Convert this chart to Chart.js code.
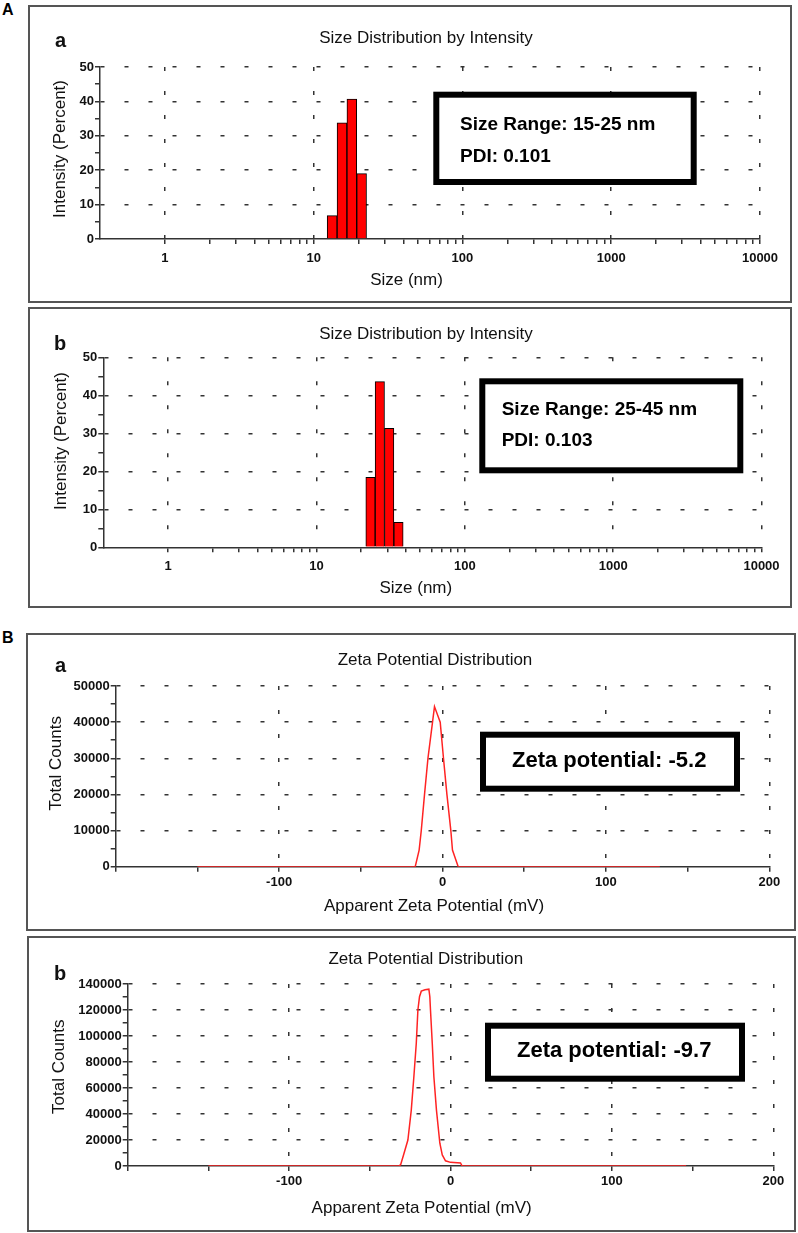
<!DOCTYPE html>
<html>
<head>
<meta charset="utf-8">
<script src="https://cdn.jsdelivr.net/npm/chart.js@4.4.0/dist/chart.umd.min.js"></script>
<style>
  body { margin: 0; background: #fff; width: 798px; height: 1233px; position: relative; overflow: hidden; }
  .panel { position: absolute; border: 2px solid #555; background: #fff; }
  .panel canvas { display: block; }
  .part { position: absolute; left: 2px; font: bold 16px Arial, "Liberation Sans", sans-serif; line-height: 16px; color: #000; }
</style>
</head>
<body>
<div class="part" style="top:2px">A</div>
<div class="panel" style="left:28px;top:5px;width:760px;height:294px"><canvas id="sizeA" width="760" height="294"></canvas></div>
<div class="panel" style="left:28px;top:307px;width:760px;height:297px"><canvas id="sizeB" width="760" height="297"></canvas></div>
<div class="part" style="top:630px">B</div>
<div class="panel" style="left:26px;top:633px;width:766px;height:294px"><canvas id="zetaA" width="766" height="294"></canvas></div>
<div class="panel" style="left:27px;top:936px;width:765px;height:292px"><canvas id="zetaB" width="765" height="292"></canvas></div>

<script>
const FONT = 'Arial, "Liberation Sans", sans-serif';
const AXIS = '#333';
const CLEAR = 'rgba(0,0,0,0)';

// size distribution by intensity (panel A)
const sizeTicks = [1, 2, 3, 4, 5, 6, 7, 8, 9, 10, 20, 30, 40, 50, 60, 70, 80, 90,
  100, 200, 300, 400, 500, 600, 700, 800, 900, 1000, 2000, 3000, 4000, 5000,
  6000, 7000, 8000, 9000, 10000];
const sizeLabels = [1, 10, 100, 1000, 10000];
const sizeBinsA = [13.3, 15.5, 18.05, 21.0];
const intensityA = [6.8, 33.8, 40.7, 19.0];
const sizeBinsB = [23.1, 26.7, 30.9, 35.7];
const intensityB = [18.4, 43.6, 31.3, 6.6];

// zeta potential distribution (panel B)
const zetaLabels = [-100, 0, 100, 200];
const mvA = [-150, -16.7, -14.3, -13, -11, -8.9, -6.1, -4.9, -1.4, 0.6, 2.7, 5.1, 6.1, 9.6, 133];
const countsA = [0, 0, 4600, 10000, 20000, 30000, 40000, 44300, 40000, 30000, 20000, 10000, 4600, 0, 0];
const mvB = [-150, -32, -30.9, -29.1, -26.4, -24.3, -22.7, -21.2, -20.2, -19.2, -18.1, -15.8, -13.4,
  -12.8, -12.4, -11.3, -10.3, -8.7, -6.6, -5.1, -3.1, 0, 6.2, 7.2, 146];
const countsB = [0, 0, 1000, 8500, 20000, 43000, 68700, 94400, 120000, 130200, 134500, 135500, 136000,
  130200, 120000, 94400, 68700, 43000, 17500, 8500, 4000, 2800, 2300, 0, 0];

const panelText = {
  id: 'panelText',
  afterDraw(chart, args, o) {
    const ctx = chart.ctx;
    ctx.save();
    ctx.textBaseline = 'alphabetic';
    ctx.fillStyle = '#111';
    ctx.textAlign = 'left';
    ctx.font = 'bold 20px ' + FONT;
    ctx.fillText(o.letter, o.letterAt[0], o.letterAt[1]);

    ctx.font = '17px ' + FONT;
    ctx.textAlign = 'center';
    ctx.fillText(o.title, o.titleAt[0], o.titleAt[1]);
    ctx.fillText(o.xTitle, o.xTitleAt[0], o.xTitleAt[1]);
    ctx.save();
    ctx.translate(o.yTitleAt[0], o.yTitleAt[1]);
    ctx.rotate(-Math.PI / 2);
    ctx.fillText(o.yTitle, 0, 0);
    ctx.restore();

    // result box
    const [bx, by, bw, bh] = o.box;
    ctx.fillStyle = '#fff';
    ctx.fillRect(bx, by, bw, bh);
    ctx.lineWidth = 6;
    ctx.strokeStyle = '#000';
    ctx.strokeRect(bx, by, bw, bh);
    ctx.fillStyle = '#000';
    ctx.font = o.noteFont;
    ctx.textAlign = o.noteAlign;
    o.notes.forEach(n => ctx.fillText(n[0], n[1], n[2]));
    ctx.restore();
  }
};

function grid(isMajor) {
  return {
    color: c => (c.tick && isMajor(c.tick.value)) ? AXIS : CLEAR,
    lineWidth: 1.5,
    tickColor: AXIS,
    tickWidth: 1.5,
    tickLength: 5,
    offset: false
  };
}

const border = { display: true, color: AXIS, width: 1.5, dash: [4, 20] };
const tickFont = { family: FONT, size: 13, weight: 'bold' };

function sizeChart(id, bins, values, lay, text) {
  new Chart(document.getElementById(id), {
    type: 'bar',
    data: {
      datasets: [{
        data: bins.map((x, i) => ({ x: x, y: values[i] })),
        backgroundColor: '#ff0000',
        borderColor: '#000',
        borderWidth: 1,
        barThickness: 'flex',
        categoryPercentage: 1,
        barPercentage: 1
      }]
    },
    options: {
      responsive: false,
      animation: false,
      layout: { padding: { left: 0, top: lay.top, right: lay.right, bottom: 0 } },
      plugins: { legend: { display: false }, tooltip: { enabled: false }, panelText: text },
      scales: {
        x: {
          type: 'logarithmic',
          min: lay.min,
          max: 10000,
          offset: false,
          grid: grid(v => sizeLabels.includes(v)),
          border: border,
          ticks: {
            autoSkip: false, maxRotation: 0, minRotation: 0, padding: 6.5,
            font: tickFont, color: '#111',
            callback: v => sizeLabels.includes(v) ? String(v) : ''
          },
          afterBuildTicks: s => { s.ticks = sizeTicks.map(v => ({ value: v })); },
          afterFit: s => { s.height = lay.xh; }
        },
        y: {
          type: 'linear',
          min: 0,
          max: 50,
          grid: grid(v => v % 10 === 0 && v !== 0),
          border: border,
          ticks: {
            stepSize: 5, autoSkip: false, padding: 1,
            font: tickFont, color: '#111',
            callback: v => v % 10 === 0 ? String(v) : ''
          },
          afterFit: s => { s.width = lay.yw; }
        }
      }
    },
    plugins: [panelText]
  });
}

function zetaChart(id, mv, counts, yMax, yStep, yLabelStep, lay, text) {
  new Chart(document.getElementById(id), {
    type: 'line',
    data: {
      datasets: [{
        data: mv.map((x, i) => ({ x: x, y: counts[i] })),
        borderColor: 'rgb(255,35,35)',
        borderWidth: 1.5,
        pointRadius: 0,
        tension: 0,
        fill: false
      }]
    },
    options: {
      responsive: false,
      animation: false,
      layout: { padding: { left: 0, top: lay.top, right: lay.right, bottom: 0 } },
      plugins: { legend: { display: false }, tooltip: { enabled: false }, panelText: text },
      scales: {
        x: {
          type: 'linear',
          min: -200,
          max: 200,
          grid: grid(v => zetaLabels.includes(v)),
          border: border,
          ticks: {
            stepSize: 50, autoSkip: false, maxRotation: 0, minRotation: 0, padding: 3,
            font: tickFont, color: '#111',
            callback: v => zetaLabels.includes(v) ? String(v) : ''
          },
          afterFit: s => { s.height = lay.xh; }
        },
        y: {
          type: 'linear',
          min: 0,
          max: yMax,
          grid: grid(v => v % yLabelStep === 0 && v !== 0),
          border: border,
          ticks: {
            stepSize: yStep, autoSkip: false, padding: 1,
            font: tickFont, color: '#111',
            callback: v => v % yLabelStep === 0 ? String(v) : ''
          },
          afterFit: s => { s.width = lay.yw; }
        }
      }
    },
    plugins: [panelText]
  });
}

sizeChart('sizeA', sizeBinsA, intensityA,
  { top: 60, right: 30, yw: 70, xh: 62, min: 0.366 },
  {
    letter: 'a', letterAt: [25, 39.7],
    title: 'Size Distribution by Intensity', titleAt: [396, 35.7],
    xTitle: 'Size (nm)', xTitleAt: [376.5, 277.5],
    yTitle: 'Intensity (Percent)', yTitleAt: [34.7, 142],
    box: [406.3, 87.7, 257.4, 87.3],
    noteFont: 'bold 19px ' + FONT, noteAlign: 'left',
    notes: [['Size Range: 15-25 nm', 430, 123], ['PDI: 0.101', 430, 154.7]]
  });

sizeChart('sizeB', sizeBinsB, intensityB,
  { top: 48.3, right: 28.5, yw: 73.3, xh: 58.7, min: 0.365 },
  {
    letter: 'b', letterAt: [24, 41],
    title: 'Size Distribution by Intensity', titleAt: [396, 30.3],
    xTitle: 'Size (nm)', xTitleAt: [385.8, 284.3],
    yTitle: 'Intensity (Percent)', yTitleAt: [36, 132],
    box: [452.3, 72.3, 258, 89],
    noteFont: 'bold 19px ' + FONT, noteAlign: 'left',
    notes: [['Size Range: 25-45 nm', 471.7, 106], ['PDI: 0.103', 471.7, 136.7]]
  });

zetaChart('zetaA', mvA, countsA, 50000, 5000, 10000,
  { top: 51, right: 24.7, yw: 87.7, xh: 62.3 },
  {
    letter: 'a', letterAt: [27, 36.7],
    title: 'Zeta Potential Distribution', titleAt: [407, 30],
    xTitle: 'Apparent Zeta Potential (mV)', xTitleAt: [406, 276],
    yTitle: 'Total Counts', yTitleAt: [33, 128.3],
    box: [455, 99.7, 254, 54],
    noteFont: 'bold 22px ' + FONT, noteAlign: 'center',
    notes: [['Zeta potential: -5.2', 581.2, 131.7]]
  });

zetaChart('zetaB', mvB, countsB, 140000, 10000, 20000,
  { top: 46, right: 20.7, yw: 98.7, xh: 64 },
  {
    letter: 'b', letterAt: [25, 42],
    title: 'Zeta Potential Distribution', titleAt: [396.8, 26.3],
    xTitle: 'Apparent Zeta Potential (mV)', xTitleAt: [392.7, 275.3],
    yTitle: 'Total Counts', yTitleAt: [35, 128.7],
    box: [459, 87.7, 254, 53],
    noteFont: 'bold 22px ' + FONT, noteAlign: 'center',
    notes: [['Zeta potential: -9.7', 585.2, 118.7]]
  });
</script>
</body>
</html>
